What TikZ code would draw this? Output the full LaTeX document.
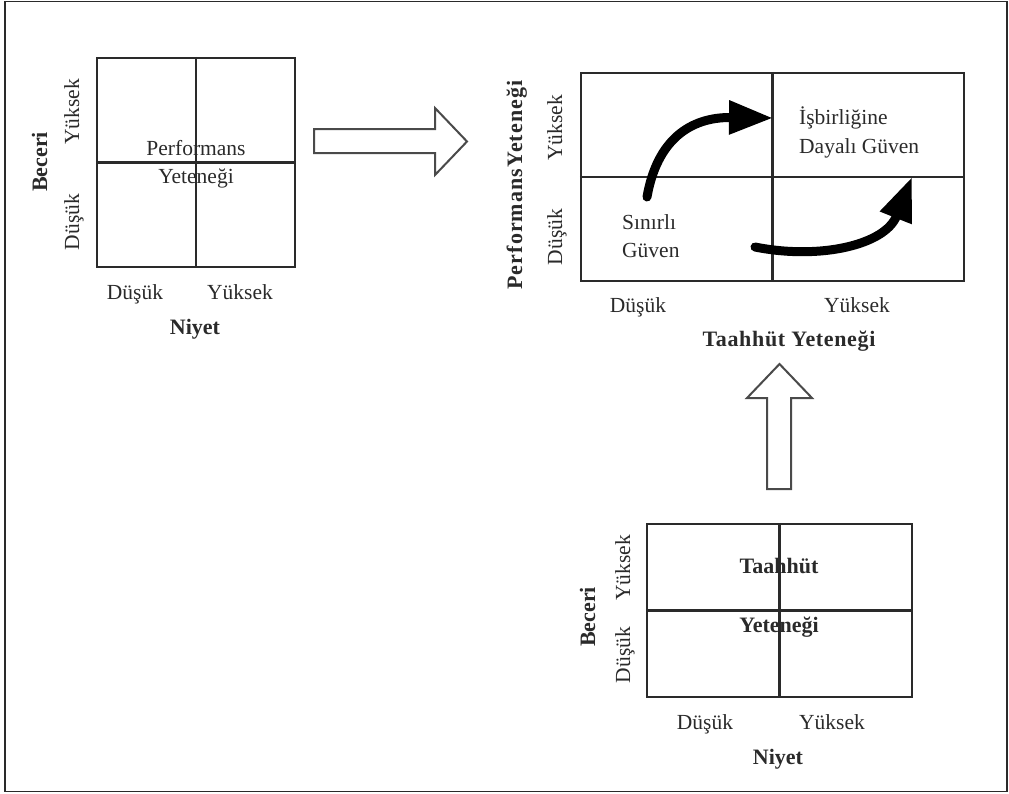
\documentclass[tikz,border=0pt]{standalone}
\usepackage{fontspec}
\setmainfont{Liberation Serif}
\usetikzlibrary{arrows.meta}
\definecolor{ink}{HTML}{2A2A2A}
\begin{document}
\begin{tikzpicture}[x=1pt,y=-1pt,
  quad/.style={draw=ink,line width=2.4pt,rectangle,inner sep=0pt},
  divider/.style={draw=ink,line width=2.2pt},
  lbl/.style={text=ink,font=\fontsize{21.5}{24}\selectfont,inner sep=0pt,text height=14pt,text depth=0pt},
  blbl/.style={text=ink,font=\fontsize{22}{25}\selectfont\bfseries,inner sep=0pt,text height=14pt,text depth=0pt},
  hollow/.style={draw=ink!85,line width=2pt,fill=white,line join=miter},
  curvearrow/.style={line width=9pt,draw=black,line cap=round,-{Triangle[length=44pt,width=32pt]}}]
\useasboundingbox (0,0) rectangle (1009,793);
\draw[ink,line width=1.6pt] (5,1.5) rectangle (1007,791.5);

% --- grid: skill vs intent (performance) ---
\node[quad,minimum width=198pt,minimum height=209pt] (b1) at (196,162.5) {};
\draw[divider] (b1.north) -- (b1.south);
\draw[divider] (b1.west) -- (b1.east);
\node[lbl] (b1p) at (196,148) {Performans};
\node[lbl] (b1y) at (196,176) {Yeteneği};
\node[lbl,rotate=90] (b1hi) at (72,112) {Yüksek};
\node[lbl,rotate=90] (b1lo) at (72,222) {Düşük};
\node[blbl,rotate=90] (b1ax) at (40,162) {Beceri};
\node[lbl] (b1xl) at (135,292) {Düşük};
\node[lbl] (b1xh) at (240,292) {Yüksek};
\node[blbl] (b1xa) at (195,327) {Niyet};

% --- hollow arrow to the right ---
\draw[hollow] (314,129) -- (435,129) -- (435,108) -- (467,141.5) -- (435,175) -- (435,153) -- (314,153) -- cycle;

% --- main grid: commitment vs performance ---
\node[quad,minimum width=383pt,minimum height=208pt] (b2) at (772.5,177) {};
\draw[divider] (b2.north) -- (b2.south);
\draw[divider] (b2.west) -- (b2.east);
\node[lbl,rotate=90] (b2hi) at (555,128) {Yüksek};
\node[lbl,rotate=90] (b2lo) at (555,237) {Düşük};
\node[blbl,rotate=90] (b2ax) at (515,185) {\addfontfeature{LetterSpace=5}PerformansYeteneği};
\node[lbl,anchor=west] (s1) at (622,222) {Sınırlı};
\node[lbl,anchor=west] (s2) at (622,250) {Güven};
\node[lbl,anchor=west] (d1) at (799,117) {İşbirliğine};
\node[lbl,anchor=west] (d2) at (799,146) {Dayalı Güven};
\node[lbl] (b2xl) at (638,305) {Düşük};
\node[lbl] (b2xh) at (857,305) {Yüksek};
\node[blbl] (b2xa) at (789,339) {\addfontfeature{LetterSpace=3}Taahhüt Yeteneği};

\coordinate (a1s) at (647,197);
\coordinate (a1e) at (773,118);
\coordinate (a2s) at (755,247);
\coordinate (a2e) at (912,177);
\draw[curvearrow] (a1s) .. controls (657,140) and (690,117) .. (a1e);
\draw[curvearrow] (a2s) .. controls (820,260) and (885,245) .. (a2e);

% --- hollow arrow upwards ---
\draw[hollow] (767,489) -- (767,398) -- (747,398) -- (779.5,364) -- (812,398) -- (791,398) -- (791,489) -- cycle;

% --- grid: skill vs intent (commitment) ---
\node[quad,minimum width=265pt,minimum height=173pt] (b3) at (779.5,610.5) {};
\draw[divider] (b3.north) -- (b3.south);
\draw[divider] (b3.west) -- (b3.east);
\node[blbl] (b3t) at (779,566) {Taahhüt};
\node[blbl] (b3y) at (779,625) {Yeteneği};
\node[lbl,rotate=90] (b3hi) at (623,568) {Yüksek};
\node[lbl,rotate=90] (b3lo) at (623,655) {Düşük};
\node[blbl,rotate=90] (b3ax) at (588,617) {Beceri};
\node[lbl] (b3xl) at (705,722) {Düşük};
\node[lbl] (b3xh) at (832,722) {Yüksek};
\node[blbl] (b3xa) at (778,757) {Niyet};
\end{tikzpicture}
\end{document}
